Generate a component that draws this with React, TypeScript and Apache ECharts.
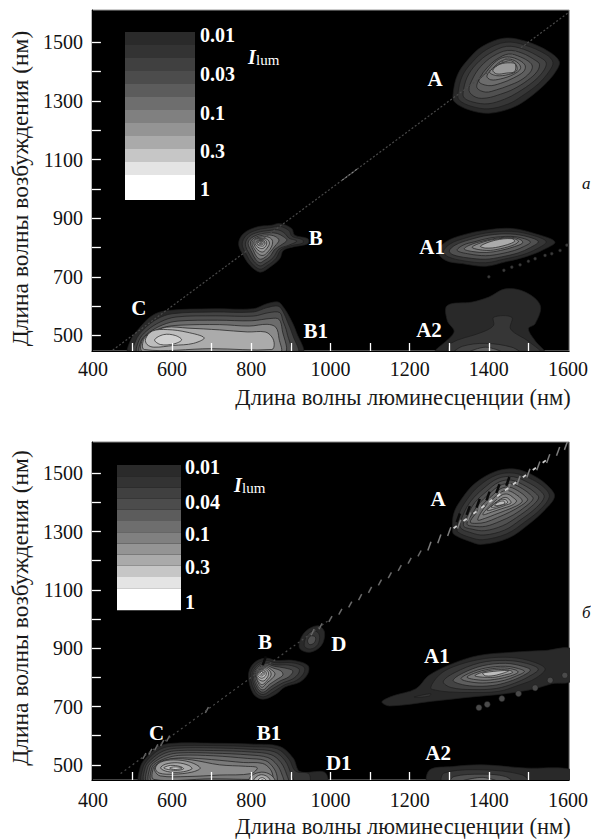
import React, { useEffect, useRef } from "react";
import * as echarts from "echarts";

type Pt = number[];
type Ring = Pt[];

const xLabelValues = [400, 600, 800, 1000, 1200, 1400, 1600];
const xTickValues = [500, 600, 700, 800, 900, 1000, 1100, 1200, 1300, 1400, 1500];
const yLabelValues = [500, 700, 900, 1100, 1300, 1500];
const yTickValues = [500, 600, 700, 800, 900, 1000, 1100, 1200, 1300, 1400, 1500];

const grayLevels = ["#292929", "#363636", "#434343", "#505050", "#5e5e5e", "#6c6c6c", "#7a7a7a", "#8a8a8a", "#9a9a9a", "#ababab", "#bdbdbd", "#d0d0d0", "#e6e6e6", "#ffffff"];
const legendColors = ["#2a2a2a", "#333333", "#404040", "#4c4c4c", "#5c5c5c", "#6e6e6e", "#808080", "#949494", "#aaaaaa", "#c6c6c6", "#e4e4e4", "#ffffff"];
const legendLabelsTop = ["0.01", "0.03", "0.1", "0.3", "1"];
const legendLabelsBottom = ["0.01", "0.04", "0.1", "0.3", "1"];

const topA: Ring[] = [
  [[1310,1326],[1321,1389],[1347,1440],[1384,1486],[1439,1514],[1494,1503],[1552,1468],[1578,1434],[1569,1400],[1540,1354],[1494,1303],[1456,1275],[1401,1258],[1351,1269],[1313,1297]],
  [[1322,1325],[1333,1385],[1358,1432],[1393,1474],[1443,1500],[1492,1490],[1545,1458],[1562,1432],[1553,1402],[1525,1358],[1482,1315],[1450,1290],[1400,1273],[1355,1282],[1325,1303]],
  [[1335,1328],[1345,1380],[1368,1425],[1402,1462],[1445,1486],[1488,1476],[1530,1448],[1545,1430],[1538,1402],[1512,1365],[1472,1328],[1440,1306],[1398,1290],[1360,1296],[1338,1310]],
  [[1350,1335],[1360,1378],[1380,1418],[1410,1452],[1447,1472],[1484,1463],[1518,1438],[1528,1425],[1522,1400],[1498,1370],[1462,1340],[1430,1323],[1395,1310],[1368,1312]],
  [[1370,1345],[1378,1380],[1395,1412],[1420,1442],[1450,1460],[1480,1450],[1505,1430],[1510,1415],[1503,1395],[1480,1370],[1450,1352],[1420,1338],[1392,1330]],
  [[1375,1366],[1392,1395],[1410,1425],[1430,1445],[1452,1450],[1478,1438],[1492,1420],[1488,1400],[1462,1378],[1430,1360],[1400,1352]],
  [[1395,1385],[1415,1418],[1435,1438],[1455,1442],[1475,1428],[1480,1410],[1462,1390],[1430,1375],[1405,1372]],
  [[1402,1398],[1420,1420],[1442,1434],[1458,1436],[1470,1420],[1470,1402],[1450,1390],[1420,1386]],
  [[1410,1405],[1428,1425],[1455,1430],[1467,1425],[1465,1400],[1445,1395],[1420,1392]],
];
const topALevels = [0, 1, 2, 3, 4, 5, 6, 7, 8];

const topA1: Ring[] = [
  [[1272,785],[1291,819],[1333,842],[1392,859],[1458,865],[1517,847],[1567,819],[1534,790],[1492,768],[1442,751],[1392,736],[1333,745],[1291,756]],
  [[1285,785],[1302,812],[1340,832],[1395,850],[1458,855],[1510,842],[1545,820],[1522,796],[1485,775],[1438,760],[1392,748],[1335,755],[1298,768]],
  [[1300,788],[1315,808],[1350,826],[1400,842],[1455,846],[1500,836],[1525,820],[1505,800],[1475,782],[1432,768],[1392,760],[1345,765],[1310,775]],
  [[1320,790],[1335,808],[1365,820],[1405,833],[1455,838],[1490,830],[1505,818],[1488,803],[1465,790],[1428,778],[1392,772],[1350,778]],
  [[1338,795],[1355,810],[1385,822],[1420,832],[1458,835],[1482,825],[1485,815],[1465,803],[1430,790],[1395,783],[1360,786]],
  [[1358,800],[1378,815],[1415,828],[1455,832],[1475,822],[1465,810],[1430,796],[1395,790]],
  [[1379,805],[1417,825],[1458,830],[1465,820],[1425,802],[1392,798]],
];
const topA1Levels = [0, 1, 3, 4, 6, 7, 9];
const topA1Dots: Pt[] = [[1400,700],[1438,722],[1458,733],[1479,741],[1500,753],[1517,762],[1542,773],[1559,779],[1580,790],[1597,808]];

const topA2: Ring[] = [
  [[1266,440],[1312,511],[1295,551],[1295,602],[1358,614],[1400,631],[1442,659],[1492,648],[1530,602],[1517,540],[1500,523],[1517,482],[1540,440]],
  [[1299,440],[1302,472],[1383,511],[1412,534],[1412,562],[1458,562],[1455,522],[1500,480],[1530,440]],
  [[1312,440],[1333,463],[1392,473],[1458,460],[1479,440]],
  [[1348,440],[1392,460],[1435,440]],
];
const topA2Levels = [0, 1, 2, 4];

const topB: Ring[] = [
  [[768,813],[780,847],[814,870],[851,876],[872,882],[902,865],[910,842],[943,830],[943,813],[906,802],[881,790],[872,762],[847,733],[822,716],[797,739],[780,773]],
  [[777,812],[788,842],[815,860],[850,868],[872,872],[895,858],[903,838],[930,826],[930,815],[900,806],[875,792],[862,762],[840,738],[822,726],[802,745],[788,775]],
  [[785,812],[795,838],[817,852],[845,858],[868,860],[885,848],[895,832],[915,822],[895,808],[870,795],[855,765],[835,745],[822,737],[807,752],[795,778]],
  [[792,814],[800,832],[820,845],[845,850],[865,848],[880,838],[890,825],[875,808],[858,792],[848,770],[832,755],[822,748],[811,760],[802,782]],
  [[798,815],[805,830],[822,840],[843,843],[860,838],[870,825],[860,805],[848,785],[838,770],[824,760],[814,768],[806,788]],
  [[802,816],[810,830],[824,836],[842,836],[853,825],[852,805],[842,785],[830,773],[818,778],[808,795]],
  [[806,817],[814,830],[826,832],[840,828],[846,815],[840,798],[830,785],[820,788],[811,800]],
  [[809,818],[817,829],[828,829],[838,822],[838,808],[830,797],[821,798],[813,806]],
  [[812,818],[820,827],[830,826],[835,815],[830,805],[821,806],[815,810]],
  [[814,819],[822,826],[831,823],[832,813],[825,809],[817,812]],
  [[817,820],[824,825],[830,820],[829,814],[822,813]],
  [[819,820],[825,824],[829,819],[825,815],[820,816]],
  [[821,820],[825,822],[828,819],[825,817]],
  [[822,820],[825,821],[827,819],[825,818]],
];
const topBLevels = [0, 1, 2, 4, 6, 7, 8, 9, 10, 11, 12, 13, 13, 13];

const topB1: Ring[] = [
  [[491,440],[495,483],[516,523],[550,568],[588,585],[705,591],[805,591],[839,608],[868,614],[881,597],[897,562],[914,511],[927,440]],
  [[505,440],[508,482],[528,520],[562,556],[600,574],[705,580],[805,580],[840,595],[868,600],[880,582],[892,545],[905,500],[915,440]],
  [[514,440],[516,482],[536,516],[570,546],[610,563],[710,567],[805,566],[845,578],[872,578],[880,550],[890,510],[895,440]],
  [[521,440],[522,482],[542,510],[576,536],[615,549],[715,552],[800,550],[850,558],[870,555],[878,520],[882,440]],
  [[526,445],[525,485],[545,508],[580,528],[620,535],[720,537],[795,532],[840,538],[862,528],[870,490],[872,440]],
  [[530,452],[529,488],[548,507],[585,528],[640,525],[720,519],[790,512],[835,512],[852,495],[858,470],[852,452],[700,455]],
  [[533,488],[550,515],[588,520],[638,511],[681,492],[654,473],[604,466],[554,460],[537,469]],
  [[556,485],[579,503],[608,500],[624,485],[604,471],[571,469]],
];
const topB1Levels = [0, 2, 3, 5, 7, 9, 10, 11];

const bottomA: Ring[] = [
  [[1308,1307],[1312,1364],[1333,1415],[1366,1466],[1417,1506],[1467,1514],[1517,1489],[1551,1454],[1566,1420],[1542,1375],[1500,1324],[1450,1278],[1383,1256],[1350,1267],[1312,1290]],
  [[1320,1312],[1325,1362],[1345,1410],[1375,1456],[1420,1494],[1465,1500],[1510,1478],[1542,1448],[1553,1420],[1532,1378],[1490,1332],[1445,1292],[1385,1272],[1352,1280],[1322,1298]],
  [[1328,1315],[1336,1360],[1355,1405],[1385,1446],[1423,1482],[1462,1488],[1502,1466],[1530,1440],[1540,1418],[1520,1382],[1480,1340],[1440,1305],[1388,1288],[1355,1296]],
  [[1336,1320],[1347,1358],[1365,1400],[1393,1436],[1426,1470],[1458,1476],[1494,1455],[1518,1432],[1526,1415],[1507,1385],[1470,1348],[1435,1320],[1390,1303],[1358,1308]],
  [[1345,1325],[1357,1358],[1375,1395],[1400,1428],[1428,1458],[1456,1464],[1486,1446],[1506,1425],[1512,1412],[1495,1388],[1462,1357],[1428,1335],[1392,1318],[1362,1318]],
  [[1353,1332],[1366,1360],[1384,1392],[1406,1420],[1430,1447],[1453,1452],[1478,1436],[1494,1418],[1498,1408],[1483,1390],[1452,1366],[1422,1348],[1392,1332],[1368,1328]],
  [[1372,1340],[1392,1388],[1412,1414],[1432,1436],[1450,1440],[1470,1426],[1482,1412],[1484,1402],[1470,1388],[1442,1372],[1415,1358],[1392,1346]],
  [[1385,1358],[1400,1385],[1418,1408],[1434,1426],[1448,1428],[1462,1416],[1470,1404],[1458,1390],[1432,1378],[1410,1368]],
  [[1396,1372],[1408,1390],[1422,1404],[1436,1416],[1446,1416],[1454,1406],[1456,1398],[1442,1390],[1420,1380]],
  [[1406,1384],[1418,1398],[1432,1410],[1444,1408],[1447,1398],[1432,1390],[1416,1384]],
  [[1414,1390],[1426,1402],[1438,1404],[1440,1396],[1426,1390]],
];
const bottomALevels = [0, 1, 2, 3, 4, 5, 6, 7, 8, 9, 10];

const bottomA1: Ring[] = [
  [[1130,716],[1157,736],[1216,761],[1249,807],[1308,847],[1375,875],[1458,886],[1542,892],[1610,895],[1610,790],[1559,778],[1517,761],[1442,744],[1358,733],[1257,718],[1149,702]],
  [[1253,764],[1274,807],[1308,835],[1375,861],[1442,869],[1500,858],[1542,830],[1517,796],[1475,773],[1425,752],[1358,748],[1299,750],[1266,756]],
  [[1285,785],[1312,815],[1378,850],[1442,858],[1495,848],[1525,828],[1500,802],[1465,780],[1420,762],[1360,758],[1305,765]],
  [[1310,790],[1335,815],[1385,840],[1442,848],[1485,838],[1505,825],[1485,805],[1450,785],[1410,772],[1360,770],[1325,778]],
  [[1330,795],[1352,815],[1392,832],[1442,838],[1475,830],[1490,820],[1470,805],[1440,790],[1405,782],[1365,782]],
  [[1345,800],[1365,815],[1400,828],[1440,832],[1468,825],[1474,817],[1455,805],[1425,795],[1385,790]],
  [[1365,805],[1385,818],[1415,826],[1450,825],[1460,817],[1440,808],[1410,800]],
  [[1385,815],[1450,823],[1420,808],[1392,805]],
  [[1212,733],[1253,744],[1250,736],[1215,731]],
];
const bottomA1Levels = [0, 1, 2, 4, 5, 6, 8, 10, 1];
const bottomA1Dots: Pt[] = [[1375,696],[1396,707],[1433,727],[1475,744],[1517,764],[1555,790],[1592,807]];

const bottomA2: Ring[] = [
  [[1247,440],[1251,483],[1308,494],[1383,500],[1492,489],[1610,483],[1610,440]],
  [[1283,440],[1287,472],[1383,483],[1484,466],[1500,440]],
  [[1303,440],[1312,460],[1383,468],[1442,460],[1459,440]],
  [[1325,440],[1383,457],[1425,440]],
];
const bottomA2Levels = [0, 1, 3, 5];

const bottomB: Ring[] = [
  [[793,807],[805,847],[835,866],[864,858],[906,858],[943,841],[943,813],[923,784],[885,767],[864,744],[830,725],[805,744]],
  [[798,807],[810,842],[835,858],[862,850],[903,850],[933,836],[933,815],[915,790],[882,773],[858,752],[830,733],[810,750]],
  [[802,808],[813,838],[835,852],[860,843],[895,842],[920,830],[920,815],[905,795],[878,780],[853,760],[830,741],[813,756]],
  [[805,808],[816,835],[835,847],[858,838],[885,832],[905,822],[895,802],[872,787],[850,768],[830,749],[816,762]],
  [[808,809],[818,832],[835,842],[855,832],[875,822],[880,808],[865,793],[846,776],[830,757],[818,768]],
  [[810,810],[820,830],[835,838],[851,826],[860,812],[852,795],[840,782],[828,766],[820,775]],
  [[812,811],[822,828],[834,834],[847,822],[850,808],[842,792],[828,775],[818,785]],
  [[814,812],[822,826],[833,830],[843,818],[842,803],[832,788],[822,790],[815,800]],
  [[816,813],[823,824],[832,826],[838,815],[835,803],[826,797],[818,803]],
  [[818,815],[825,822],[832,822],[834,813],[827,805],[820,808]],
  [[820,816],[826,820],[831,817],[829,811],[823,811]],
  [[823,817],[827,819],[829,815],[825,813]],
];
const bottomBLevels = [0, 1, 2, 4, 6, 7, 8, 9, 10, 11, 12, 13];

const bottomB1: Ring[] = [
  [[520,440],[519,489],[533,523],[567,563],[604,574],[705,574],[805,571],[872,563],[906,523],[923,477],[985,475],[990,440]],
  [[527,440],[526,489],[540,520],[572,555],[608,565],[705,566],[805,562],[865,555],[895,520],[912,478],[945,470],[945,440]],
  [[533,440],[532,490],[546,517],[577,547],[612,557],[705,558],[805,553],[858,545],[885,515],[900,470],[905,440]],
  [[539,440],[538,490],[552,514],[582,540],[616,549],[705,549],[800,544],[850,535],[875,508],[890,465],[892,440]],
  [[545,440],[544,490],[557,511],[587,533],[620,541],[705,540],[795,534],[842,525],[865,500],[878,465],[880,440]],
  [[550,445],[549,490],[562,508],[592,526],[625,533],[705,531],[790,522],[835,515],[855,492],[865,462],[862,440]],
  [[554,450],[553,490],[567,506],[596,520],[632,524],[700,518],[780,508],[828,505],[848,485],[855,458],[850,450],[700,452]],
  [[556,480],[558,495],[572,512],[604,521],[650,517],[720,500],[785,495],[815,490],[800,470],[720,465],[640,460],[570,462]],
  [[558,489],[571,509],[604,517],[646,509],[671,489],[650,475],[604,468],[567,472]],
  [[571,489],[583,502],[613,507],[642,498],[650,486],[621,475],[588,477]],
  [[579,489],[596,498],[621,494],[629,486],[608,481]],
  [[594,489],[608,493],[625,489],[608,484]],
  [[795,440],[800,462],[826,475],[850,465],[860,440]],
  [[805,440],[812,458],[826,466],[842,458],[848,440]],
  [[815,440],[820,452],[828,456],[836,450],[840,440]],
  [[822,440],[828,449],[835,440]],
];
const bottomB1Levels = [0, 1, 2, 3, 4, 5, 6, 7, 8, 9, 10, 11, 7, 9, 11, 13];

const bottomD: Ring[] = [
  [[923,926],[923,898],[948,886],[977,909],[985,955],[969,977],[939,960]],
  [[935,925],[935,905],[950,897],[968,912],[972,945],[960,960],[943,948]],
  [[942,925],[948,912],[960,920],[962,938],[950,942]],
];
const bottomDLevels = [0, 1, 3];

const topDiagonal: Pt[] = [[450,450],[1600,1600]];
const bottomDiagonal: Pt[] = [[470,470],[1000,1000]];
const topDiagBright: Pt[] = [[1030,1030],[1070,1070]];
const diagMarksDim: number[] = [530,545,560,575,590,688,955,975,1000,1025,1050,1075,1100,1125,1150,1175,1200,1225];
const diagMarksGray: number[] = [1250,1275,1300,1325,1350,1375,1400,1425,1450,1475,1500,1525,1550,1575,1595];
const diagDark: number[] = [845,1335,1360,1385,1410,1435,1460];
const diagBright: number[] = [1315,1340,1365,1385,1405,1425,1445,1465,1490,1515,1540];

const peaksTop = [
  { name: "A", value: [1264, 1375] }, { name: "A1", value: [1257, 801] }, { name: "B", value: [963, 832] },
  { name: "C", value: [516, 592] }, { name: "B1", value: [963, 514] }, { name: "A2", value: [1249, 517] },
];
const peaksBottom = [
  { name: "A", value: [1272, 1412] }, { name: "A1", value: [1269, 874] }, { name: "B", value: [835, 922] },
  { name: "D", value: [1021, 915] }, { name: "C", value: [561, 608] }, { name: "B1", value: [845, 608] },
  { name: "D1", value: [1021, 506] }, { name: "A2", value: [1272, 540] },
];

const xTitle = "Длина волны люминесценции (нм)";
const yTitle = "Длина волны возбуждения (нм)";
const serif = "'Liberation Serif', serif";

function ringSeries(rings: Ring[], levels: number[], axis: number) {
  return {
    type: "custom", coordinateSystem: "cartesian2d", xAxisIndex: axis, yAxisIndex: axis, clip: true, silent: true,
    data: rings.map((r) => r[0]),
    renderItem: (p: any, api: any) => ({
      type: "polygon",
      shape: { points: rings[p.dataIndex].map((pt) => api.coord(pt)), smooth: 0.35 },
      style: { fill: grayLevels[levels[p.dataIndex]], stroke: "#1c1c1c", lineWidth: 0.7 },
    }),
  };
}

function diagMarkSeries(values: number[], axis: number, kind: "dim" | "gray" | "dark" | "bright") {
  return {
    type: "custom", coordinateSystem: "cartesian2d", xAxisIndex: axis, yAxisIndex: axis, clip: true, silent: true,
    data: values.map((v) => [v, v]),
    renderItem: (p: any, api: any) => {
      const v = api.value(0);
      if (kind === "bright") {
        const a = api.coord([v - 4, v - 4]);
        const b = api.coord([v + 4, v + 4]);
        return { type: "line", shape: { x1: a[0], y1: a[1], x2: b[0], y2: b[1] }, style: { stroke: "#cfcfcf", lineWidth: 1.8 } };
      }
      const off = kind === "dark" ? 12 : 0;
      const half = kind === "dim" ? 10 : 15;
      const a = api.coord([v - off - 4, v + off - half]);
      const b = api.coord([v - off + 4, v + off + half]);
      const stroke = kind === "dark" ? "#0a0a0a" : kind === "dim" ? "#6a6a6a" : "#7c7c7c";
      return { type: "line", shape: { x1: a[0], y1: a[1], x2: b[0], y2: b[1] }, style: { stroke, lineWidth: kind === "dark" ? 2.5 : 1.5 } };
    },
  };
}

function dotSeries(points: Pt[], axis: number, size: number, color: string) {
  return { type: "scatter", xAxisIndex: axis, yAxisIndex: axis, silent: true, symbolSize: size, data: points, itemStyle: { color, opacity: 1, borderColor: "#1c1c1c", borderWidth: 0.5 } };
}

function diagLine(points: Pt[], axis: number, color: string, width: number, dash: number[]) {
  return { type: "line", xAxisIndex: axis, yAxisIndex: axis, silent: true, symbol: "none", data: points, lineStyle: { color, width, type: dash } };
}

function labelSeries(points: any[], axis: number) {
  return {
    type: "scatter", xAxisIndex: axis, yAxisIndex: axis, silent: true, symbolSize: 1, data: points, z: 10,
    itemStyle: { opacity: 1, color: "transparent" },
    label: { show: true, position: "inside", formatter: "{b}", color: "#fff", opacity: 1, fontFamily: serif, fontWeight: "bold", fontSize: 21 },
  };
}

function xAxis(index: number, margin: number) {
  return {
    type: "value", gridIndex: index, min: 397.5, max: 1603, z: 5,
    name: xTitle, nameLocation: "middle", nameGap: 35,
    nameTextStyle: { fontFamily: serif, fontSize: 22.5, color: "#1a1a1a", padding: [0, 0, 0, 145] },
    axisLine: { show: true, lineStyle: { color: "#000", width: 1 } }, splitLine: { show: false },
    axisTick: { show: true, inside: true, length: 8, customValues: xTickValues, lineStyle: { color: "#ffffff", width: 1.3 } },
    axisLabel: { customValues: xLabelValues, margin, fontFamily: serif, fontSize: 20, color: "#111", formatter: (v: number) => String(v) },
  };
}

function yAxis(index: number, min: number, max: number, padding: number[]) {
  return {
    type: "value", gridIndex: index, min, max, z: 5,
    name: yTitle, nameLocation: "middle", nameGap: 58,
    nameTextStyle: { fontFamily: serif, fontSize: 23.5, color: "#1a1a1a", padding },
    axisLine: { show: true, lineStyle: { color: "#000", width: 1 } }, splitLine: { show: false },
    axisTick: { show: true, inside: true, length: 9, customValues: yTickValues, lineStyle: { color: "#ffffff", width: 1.3 } },
    axisLabel: { customValues: yLabelValues, margin: 9, fontFamily: serif, fontSize: 20, color: "#111", formatter: (v: number) => String(v) },
  };
}

function legendGraphics(colors: string[], x: number, y: number, w: number, band: number, last: number) {
  return colors.map((c, i) => ({
    type: "rect", z: 20,
    shape: { x, y: y + i * band, width: w, height: i === colors.length - 1 ? last : band },
    style: { fill: c },
  }));
}

function legendText(labels: string[], x: number, ys: number[]) {
  return labels.map((t, i) => ({
    type: "text", z: 21, x, y: ys[i],
    style: { text: t, fill: "#fff", font: `bold 20px ${serif}`, verticalAlign: "middle" },
  }));
}

function lumText(x: number, y: number) {
  return [
    { type: "text", z: 21, x, y, style: { text: "I", fill: "#fff", font: `italic bold 20px ${serif}`, verticalAlign: "middle" } },
    { type: "text", z: 21, x: x + 8, y: y + 3, style: { text: "lum", fill: "#fff", font: `15px ${serif}`, verticalAlign: "middle" } },
  ];
}

export default function App() {
  const ref = useRef<HTMLDivElement>(null);
  useEffect(() => {
    const chart = echarts.init(ref.current!, undefined, { renderer: "svg" });
    chart.setOption({
      animation: false,
      backgroundColor: "#fff",
      grid: [
        { left: 91, top: 10, width: 480, height: 341, show: true, backgroundColor: "#000", borderColor: "#999", borderWidth: 1 },
        { left: 91, top: 442, width: 479, height: 340, show: true, backgroundColor: "#000", borderColor: "#888", borderWidth: 1 },
      ],
      xAxis: [xAxis(0, 8), xAxis(1, 10)],
      yAxis: [yAxis(0, 447, 1610, [0, 16, 0, 0]), yAxis(1, 448, 1607, [0, 0, 0, 6])],
      series: [
        ringSeries(topA, topALevels, 0),
        ringSeries(topA1, topA1Levels, 0),
        ringSeries(topA2, topA2Levels, 0),
        ringSeries(topB, topBLevels, 0),
        ringSeries(topB1, topB1Levels, 0),
        dotSeries(topA1Dots, 0, 3, "#3c3c3c"),
        diagLine(topDiagonal, 0, "#4a4a4a", 1.2, [2, 2]),
        diagLine(topDiagBright, 0, "#8a8a8a", 1.2, [2, 2]),
        labelSeries(peaksTop, 0),
        ringSeries(bottomA, bottomALevels, 1),
        ringSeries(bottomA1, bottomA1Levels, 1),
        ringSeries(bottomA2, bottomA2Levels, 1),
        ringSeries(bottomB, bottomBLevels, 1),
        ringSeries(bottomB1, bottomB1Levels, 1),
        ringSeries(bottomD, bottomDLevels, 1),
        dotSeries(bottomA1Dots, 1, 6, "#4a4a4a"),
        diagLine(bottomDiagonal, 1, "#4a4a4a", 1.2, [2, 3]),
        diagMarkSeries(diagMarksDim, 1, "dim"),
        diagMarkSeries(diagMarksGray, 1, "gray"),
        diagMarkSeries(diagDark, 1, "dark"),
        diagMarkSeries(diagBright, 1, "bright"),
        labelSeries(peaksBottom, 1),
      ],
      graphic: [
        ...legendGraphics(legendColors, 125, 32, 70, 13, 25),
        ...legendText(legendLabelsTop, 200, [35, 74, 113, 151, 189]),
        ...lumText(248, 57),
        ...legendGraphics(legendColors, 117, 465, 64, 11.2, 22),
        ...legendText(legendLabelsBottom, 185, [467, 502, 534, 567, 602]),
        ...lumText(234, 485),
        { type: "text", x: 582, y: 183, style: { text: "а", fill: "#111", font: `italic 17px ${serif}`, verticalAlign: "middle" } },
        { type: "text", x: 582, y: 612, style: { text: "б", fill: "#111", font: `italic 17px ${serif}`, verticalAlign: "middle" } },
      ],
    } as any);
    return () => chart.dispose();
  }, []);
  return <div ref={ref} style={{ position: "fixed", left: 0, top: 0, width: 591, height: 839 }} />;
}
